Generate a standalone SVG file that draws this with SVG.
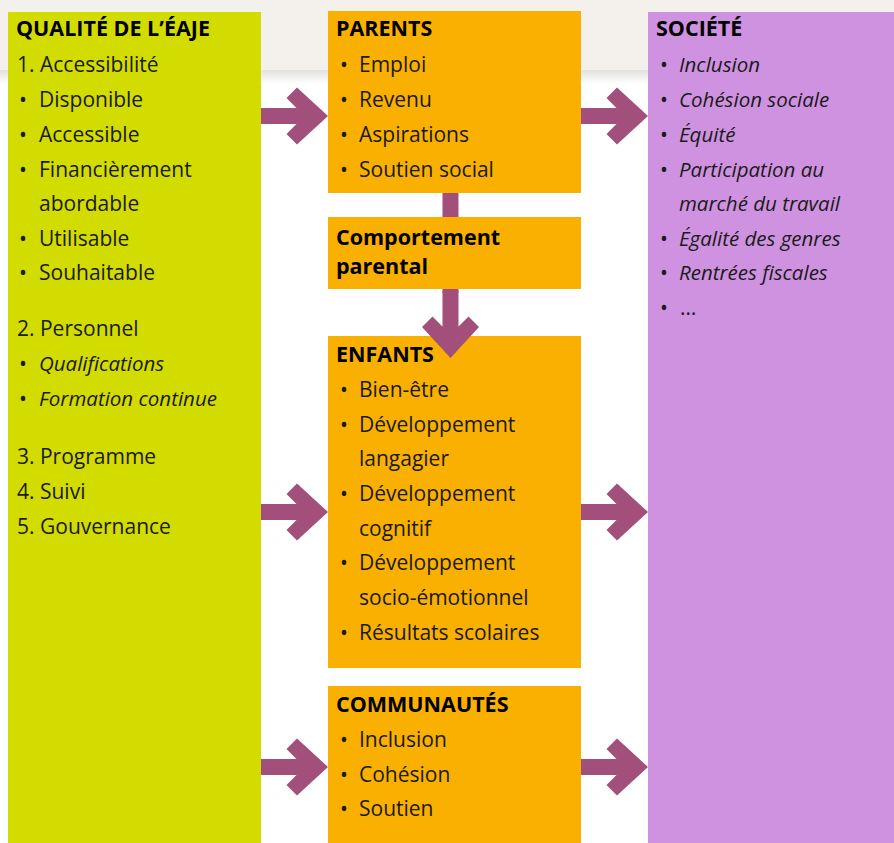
<svg xmlns="http://www.w3.org/2000/svg" width="894" height="843" viewBox="0 0 894 843">
<defs>
<linearGradient id="shade" x1="0" y1="0" x2="0" y2="1">
<stop offset="0" stop-color="#e3e2e0"/>
<stop offset="1" stop-color="#ffffff"/>
</linearGradient>
<path id="arr" d="M-67,-8 H-31.5 L-41.5,-18 L-31,-28.5 L0,0 L-31,28.5 L-41.5,18 L-31.5,8 H-67 Z"/>
</defs>
<style>
text{font-family:"Open Sans","Noto Sans","Liberation Sans",sans-serif;font-size:21px;fill:#1a1a1a}
.h{font-weight:bold;font-size:21.5px;fill:#000}
.it{font-style:italic;font-size:20.5px}
.b{text-anchor:middle}
.lime{fill:#d3dc00}
.org{fill:#f9b000}
.lil{fill:#cf92e0}
.arw{fill:#a34f7c}
</style>
<rect x="0" y="0" width="894" height="843" fill="#ffffff"/>
<rect x="0" y="0" width="894" height="70" fill="#f4f0eb"/>
<rect x="0" y="70" width="894" height="14" fill="url(#shade)"/>

<g id="qualite">
<rect class="lime" x="8" y="12" width="253" height="831"/>
<text class="h" x="16" y="36">QUALITÉ DE L’ÉAJE</text>
<text x="17" y="72">1. Accessibilité</text>
<text class="b" x="23" y="107">•</text><text x="39" y="107">Disponible</text>
<text class="b" x="23" y="141.5">•</text><text x="39" y="141.5">Accessible</text>
<text class="b" x="23" y="176.5">•</text><text x="39" y="176.5">Financièrement</text>
<text x="39" y="211">abordable</text>
<text class="b" x="23" y="245.5">•</text><text x="39" y="245.5">Utilisable</text>
<text class="b" x="23" y="280">•</text><text x="39" y="280">Souhaitable</text>
<text x="17" y="336">2. Personnel</text>
<text class="b" x="23" y="371">•</text><text class="it" x="39" y="371">Qualifications</text>
<text class="b" x="23" y="406">•</text><text class="it" x="39" y="406">Formation continue</text>
<text x="17" y="463.5">3. Programme</text>
<text x="17" y="498.5">4. Suivi</text>
<text x="17" y="533.5">5. Gouvernance</text>
</g>

<g id="parents">
<rect class="org" x="328" y="11" width="253" height="182"/>
<text class="h" x="336" y="36">PARENTS</text>
<text class="b" x="344" y="72">•</text><text x="359" y="72">Emploi</text>
<text class="b" x="344" y="107">•</text><text x="359" y="107">Revenu</text>
<text class="b" x="344" y="141.5">•</text><text x="359" y="141.5">Aspirations</text>
<text class="b" x="344" y="176.5">•</text><text x="359" y="176.5">Soutien social</text>
</g>

<g id="comportement">
<rect class="org" x="328" y="217" width="253" height="72"/>
<text class="h" x="336" y="245">Comportement</text>
<text class="h" x="336" y="274">parental</text>
</g>

<g id="enfants">
<rect class="org" x="328" y="336" width="253" height="332"/>
<text class="h" x="336" y="362">ENFANTS</text>
<text class="b" x="344" y="396.5">•</text><text x="359" y="396.5">Bien-être</text>
<text class="b" x="344" y="431.5">•</text><text x="359" y="431.5">Développement</text>
<text x="359" y="466">langagier</text>
<text class="b" x="344" y="500.5">•</text><text x="359" y="500.5">Développement</text>
<text x="359" y="535.5">cognitif</text>
<text class="b" x="344" y="570">•</text><text x="359" y="570">Développement</text>
<text x="359" y="604.5">socio-émotionnel</text>
<text class="b" x="344" y="639.5">•</text><text x="359" y="639.5">Résultats scolaires</text>
</g>

<g id="communautes">
<rect class="org" x="328" y="686" width="253" height="157"/>
<text class="h" x="336" y="712">COMMUNAUTÉS</text>
<text class="b" x="344" y="746.5">•</text><text x="359" y="746.5">Inclusion</text>
<text class="b" x="344" y="781.5">•</text><text x="359" y="781.5">Cohésion</text>
<text class="b" x="344" y="815.5">•</text><text x="359" y="815.5">Soutien</text>
</g>

<g id="societe">
<rect class="lil" x="648" y="12" width="246" height="831"/>
<text class="h" x="656" y="36">SOCIÉTÉ</text>
<text class="b" x="664" y="72">•</text><text class="it" x="679" y="72">Inclusion</text>
<text class="b" x="664" y="107">•</text><text class="it" x="679" y="107">Cohésion sociale</text>
<text class="b" x="664" y="141.5">•</text><text class="it" x="679" y="141.5">Équité</text>
<text class="b" x="664" y="176.5">•</text><text class="it" x="679" y="176.5">Participation au</text>
<text class="it" x="679" y="211">marché du travail</text>
<text class="b" x="664" y="245.5">•</text><text class="it" x="679" y="245.5">Égalité des genres</text>
<text class="b" x="664" y="280">•</text><text class="it" x="679" y="280">Rentrées fiscales</text>
<text class="b" x="664" y="314.5">•</text><text x="680" y="314.5" letter-spacing="2">…</text>
</g>

<g id="connectors" class="arw">
<use href="#arr" x="328" y="116"/>
<use href="#arr" x="328" y="512"/>
<use href="#arr" x="328" y="767"/>
<use href="#arr" x="648" y="116"/>
<use href="#arr" x="648" y="512"/>
<use href="#arr" x="648" y="767"/>
<rect x="442.5" y="193" width="16" height="24"/>
<rect x="442.5" y="289" width="16" height="4"/>
<use href="#arr" transform="translate(450.5,358) rotate(90)"/>
</g>
</svg>
